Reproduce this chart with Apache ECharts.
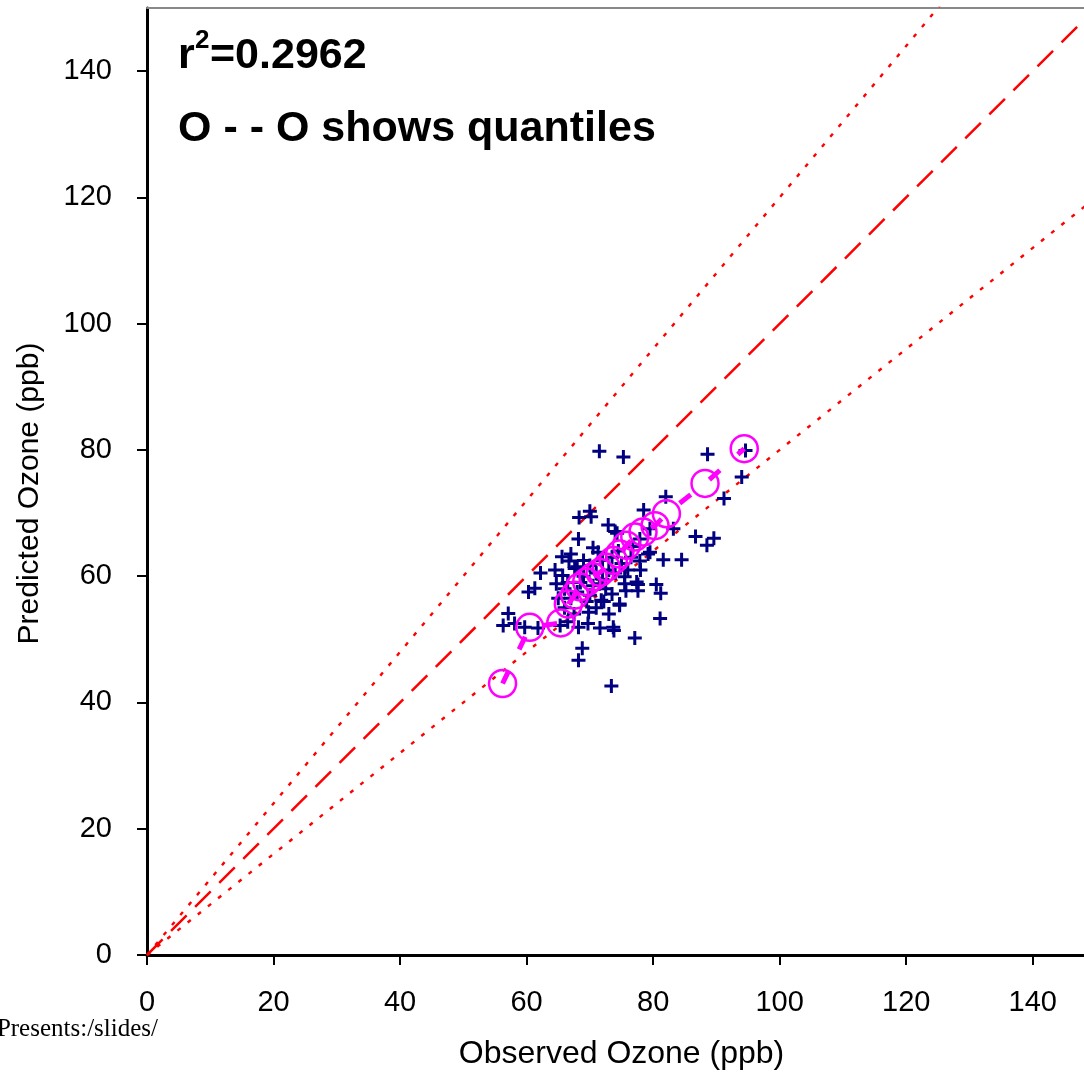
<!DOCTYPE html>
<html>
<head>
<meta charset="utf-8">
<script src="https://cdn.jsdelivr.net/npm/echarts@6/dist/echarts.min.js"></script>
<style>
  html, body { margin: 0; padding: 0; background: #fff; }
  #chart { width: 1084px; height: 1072px; }
</style>
</head>
<body>
<div id="chart"></div>
<script>
// tick labels
const xTicks = [0, 20, 40, 60, 80, 100, 120, 140];
const yTicks = [0, 20, 40, 60, 80, 100, 120, 140];
// ratio lines: 1:1 and +/- 20%
const refSlopes = [1, 1.2, 0.8];
const refStyles = [[22, 12], [4, 9], [4, 9]];
// observed vs predicted ozone (ppb)
const scatterPoints = [
  [71.5, 79.8], [75.3, 78.9], [88.6, 79.3], [94.6, 79.9], [94.0, 75.7], [91.2, 72.3],
  [82.0, 72.6], [78.5, 70.5], [70.0, 70.3], [68.3, 69.3], [70.2, 69.4], [72.9, 68.1],
  [74.0, 67.1], [74.3, 66.8], [68.2, 65.9], [86.7, 66.3], [89.6, 66.0], [88.5, 64.9],
  [83.2, 67.5], [79.5, 67.5], [77.9, 65.9], [76.8, 64.7], [79.2, 63.5], [79.5, 63.8],
  [81.6, 62.6], [84.5, 62.6], [77.9, 62.4], [71.3, 63.8], [65.6, 63.1], [66.7, 62.4],
  [67.6, 61.2], [68.0, 61.5], [70.0, 61.7], [62.2, 60.5], [65.7, 60.1], [64.7, 58.8],
  [61.3, 58.1], [60.3, 57.5], [66.5, 59.0], [75.5, 59.9], [77.4, 59.1], [77.6, 57.7],
  [75.7, 57.7], [73.5, 57.2], [71.8, 56.2], [72.2, 56.0], [74.7, 55.4], [69.8, 54.3],
  [57.1, 54.1], [56.3, 52.2], [58.1, 52.5], [59.7, 51.9], [61.8, 51.8], [65.3, 52.2],
  [66.5, 52.8], [68.2, 51.9], [69.7, 52.5], [71.6, 51.8], [73.8, 51.4], [77.1, 50.2],
  [68.8, 48.6], [68.2, 46.7], [73.4, 42.6], [77.6, 58.7], [80.5, 58.7], [81.2, 57.3],
  [75.5, 58.8], [74.7, 55.6], [81.1, 53.3], [73.7, 51.9], [69.0, 60.0], [70.5, 58.5],
  [71.0, 60.5], [72.0, 59.5], [73.0, 61.0], [72.5, 58.0], [70.0, 57.0], [69.5, 56.0],
  [68.0, 57.5], [67.0, 56.5], [66.0, 55.0], [67.5, 54.0], [71.0, 55.0], [73.0, 54.0],
  [74.0, 60.5], [75.0, 62.0], [76.0, 61.0], [73.5, 63.0], [72.0, 62.5], [70.5, 64.5],
  [69.0, 62.5], [74.5, 64.0], [76.5, 63.0], [78.0, 61.0], [66.0, 58.0], [65.0, 56.5],
  [68.5, 59.0], [71.5, 58.8], [64.5, 61.0], [67.0, 63.5]
];
// quantiles (5% .. 95%)
const quantilePoints = [
  [56.2, 43.0], [60.5, 51.9], [65.4, 52.6], [66.6, 55.6], [67.6, 57.0], [68.4, 58.3],
  [69.5, 59.1], [70.5, 59.9], [71.6, 60.6], [72.6, 61.4], [73.7, 62.5], [74.7, 63.5],
  [75.8, 64.9], [77.1, 66.2], [78.4, 67.0], [80.3, 68.0], [82.1, 69.9], [88.2, 74.7],
  [94.4, 80.2]
];

const plus = 'path://M5.5,0H8.5V5.5H14V8.5H8.5V14H5.5V8.5H0V5.5H5.5Z';
const font = 'Liberation Sans';

const chart = echarts.init(document.getElementById('chart'), null, { renderer: 'canvas' });

const refSeries = refSlopes.map((s, i) => ({
  type: 'line',
  data: [[0, 0], [150, 150 * s]],
  symbol: 'none',
  silent: true,
  clip: true,
  lineStyle: { color: '#ff0000', width: i === 0 ? 2.5 : 2.4, type: refStyles[i] },
  z: 1
}));

chart.setOption({
  animation: false,
  textStyle: { fontFamily: font },
  grid: { left: 147, top: 8, right: -12, bottom: 117, outerBoundsMode: 'none', containLabel: false },
  xAxis: [{
    type: 'value', min: 0, max: 150, position: 'bottom',
    axisLine: { show: true, onZero: false, lineStyle: { color: '#000', width: 3 } },
    axisTick: { show: true, length: 10, lineStyle: { color: '#000', width: 2 }, customValues: xTicks },
    axisLabel: { color: '#000', fontSize: 29, margin: 33, customValues: xTicks },
    splitLine: { show: false },
    name: 'Observed Ozone (ppb)', nameLocation: 'middle', nameGap: 83,
    nameTextStyle: { color: '#000', fontSize: 32 }
  }, {
    type: 'value', min: 0, max: 150, position: 'top',
    axisLine: { show: true, onZero: false, lineStyle: { color: '#888', width: 2 } },
    axisTick: { show: false }, axisLabel: { show: false }, splitLine: { show: false }
  }],
  yAxis: {
    type: 'value', min: 0, max: 150,
    axisLine: { show: true, onZero: false, lineStyle: { color: '#000', width: 3 } },
    axisTick: { show: true, length: 10, lineStyle: { color: '#000', width: 2 }, customValues: yTicks },
    axisLabel: { color: '#000', fontSize: 29, margin: 35, customValues: yTicks },
    splitLine: { show: false },
    name: 'Predicted Ozone (ppb)', nameLocation: 'middle', nameGap: 102,
    nameTextStyle: { color: '#000', fontSize: 30, padding: [0, 24, 0, 0] }
  },
  series: refSeries.concat([
    {
      type: 'scatter',
      data: scatterPoints,
      symbol: plus,
      symbolSize: 14,
      itemStyle: { color: '#000080', opacity: 1 },
      z: 2
    },
    {
      type: 'line',
      data: quantilePoints,
      symbol: 'circle',
      symbolSize: 27,
      showSymbol: true,
      itemStyle: { color: 'rgba(0,0,0,0)', borderColor: '#ff00ff', borderWidth: 2.5, opacity: 1 },
      lineStyle: { color: '#ff00ff', width: 5, type: [14, 24] },
      z: 3
    }
  ]),
  graphic: [
    { type: 'text', left: 178, top: 35, style: { text: 'r', font: 'bold 43px "Liberation Sans"', fill: '#000' } },
    { type: 'text', left: 195, top: 28, style: { text: '2', font: 'bold 26px "Liberation Sans"', fill: '#000' } },
    { type: 'text', left: 210, top: 35, style: { text: '=0.2962', font: 'bold 43px "Liberation Sans"', fill: '#000' } },
    { type: 'text', left: 178, top: 108, style: { text: 'O - - O shows quantiles', font: 'bold 43px "Liberation Sans"', fill: '#000' } },
    { type: 'text', right: 926, top: 1017, style: { text: 'Presents:/slides/', font: '25px "Liberation Serif"', fill: '#000' } }
  ]
});
window.addEventListener('resize', chart.resize);
</script>
</body>
</html>
